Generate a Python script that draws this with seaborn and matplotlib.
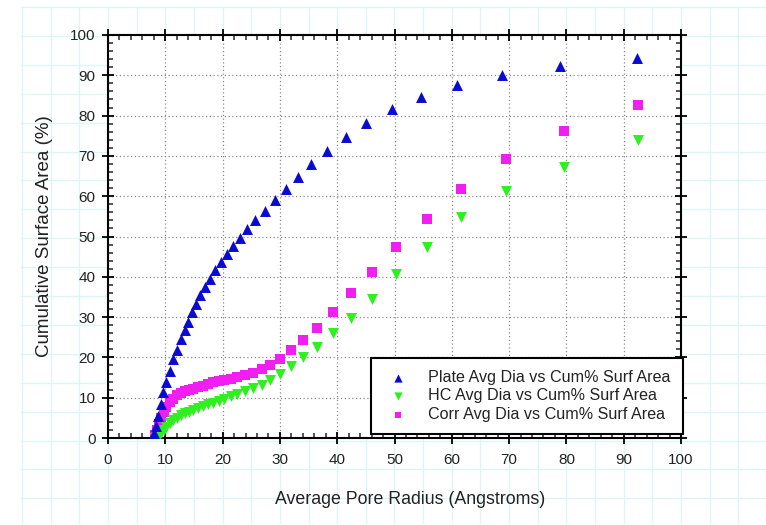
import numpy as np
import pandas as pd
import matplotlib
matplotlib.use("Agg")
import matplotlib.pyplot as plt
import seaborn as sns
from matplotlib.ticker import MultipleLocator

# ---------------- data ----------------
plate_x = [8.1, 8.35, 8.8, 9.3, 9.6, 10.2, 10.8, 11.4, 12.0, 12.7, 13.4, 14.0,
           14.6, 15.4, 16.1, 17.0, 17.8, 18.7, 19.7, 20.7, 21.9, 23.0, 24.3,
           25.7, 27.4, 29.1, 31.0, 33.2, 35.5, 38.3, 41.5, 45.1, 49.5, 54.7,
           60.9, 68.8, 78.8, 92.3]
plate_y = [1.3, 3.0, 5.5, 8.4, 11.3, 14.0, 16.7, 19.5, 21.9, 24.5, 26.7, 28.9,
           31.2, 33.3, 35.4, 37.5, 39.5, 41.6, 43.6, 45.6, 47.6, 49.7, 51.8,
           54.1, 56.4, 59.0, 61.8, 64.8, 68.0, 71.3, 74.7, 78.1, 81.7, 84.6,
           87.6, 90.0, 92.3, 94.4]

hc_corr_x = [8.2, 8.5, 8.9, 9.3, 9.7, 10.2, 10.8, 11.4, 12.0, 12.7, 13.4, 14.1,
             14.9, 15.7, 16.5, 17.4, 18.3, 19.3, 20.3, 21.4, 22.6, 23.9, 25.3,
             26.8, 28.3, 30.0, 31.9, 34.0, 36.5, 39.3, 42.4, 46.0, 50.3, 55.7,
             61.6, 69.5, 79.5, 92.5]
hc_y = [0.0, 0.3, 0.8, 1.3, 2.0, 2.8, 3.7, 4.4, 5.0, 5.6, 6.1, 6.5,
        7.0, 7.5, 7.9, 8.4, 8.8, 9.3, 9.8, 10.3, 10.9, 11.6, 12.3,
        13.2, 14.5, 15.9, 17.9, 20.0, 22.7, 26.0, 29.9, 34.5, 40.8, 47.4,
        54.9, 61.3, 67.3, 74.0]
corr_y = [0.8, 1.9, 3.4, 5.0, 6.5, 7.7, 8.9, 9.8, 10.6, 11.2, 11.6, 11.9,
          12.2, 12.6, 13.0, 13.4, 13.8, 14.1, 14.4, 14.7, 15.1, 15.6, 16.1,
          17.0, 18.0, 19.6, 21.8, 24.4, 27.4, 31.3, 35.9, 41.1, 47.3, 54.4,
          61.8, 69.2, 76.1, 82.6]

series_names = ["Plate Avg Dia vs Cum% Surf Area",
                "HC Avg Dia vs Cum% Surf Area",
                "Corr Avg Dia vs Cum% Surf Area"]
x_label = "Average Pore Radius (Angstroms)"
y_label = "Cumulative Surface Area (%)"

# ---------------- styling ----------------
sns.set_theme(style="white")
plt.rcParams["font.family"] = ["Liberation Sans", "DejaVu Sans"]

W, H = 766, 525
fig = plt.figure(figsize=(W / 100, H / 100), dpi=100)
fig.patch.set_facecolor("white")

# graph-paper backdrop (decoration)
bg = fig.add_axes([0, 0, 1, 1], zorder=-5)
bg.set_xlim(0, W)
bg.set_ylim(H, 0)
bg.axis("off")
paper_col = "#dff5f5"
for xv in np.arange(22, W + 1, 28.65):
    bg.plot([xv, xv], [7, 523], color=paper_col, lw=1.0)
for yv in np.arange(7, 524, 28.9):
    bg.plot([21, W], [yv, yv], color=paper_col, lw=1.0)

ax = fig.add_axes([108 / W, 1 - 438 / H, (681 - 108) / W, (438 - 35) / H])
ax.set_facecolor("white")

plate_df = pd.DataFrame({"x": plate_x, "y": plate_y})
hc_df = pd.DataFrame({"x": hc_corr_x, "y": hc_y})
corr_df = pd.DataFrame({"x": hc_corr_x, "y": corr_y})

sns.scatterplot(data=plate_df, x="x", y="y", ax=ax, marker="^", s=62,
                color="#0a0ad2", linewidth=0, label=series_names[0], zorder=5)
sns.scatterplot(data=hc_df, x="x", y="y", ax=ax, marker="v", s=62,
                color="#2ef01e", linewidth=0, label=series_names[1], zorder=4)
sns.scatterplot(data=corr_df, x="x", y="y", ax=ax, marker="s", s=44,
                color="#f01ef0", linewidth=0, label=series_names[2], zorder=3)

ax.set_xlim(0, 100)
ax.set_ylim(0, 100)
ax.xaxis.set_major_locator(MultipleLocator(10))
ax.yaxis.set_major_locator(MultipleLocator(10))
ax.xaxis.set_minor_locator(MultipleLocator(2))
ax.yaxis.set_minor_locator(MultipleLocator(2))

ax.grid(True, which="major", color="#8a8a8a", linestyle=(0, (1, 2)), lw=0.9)
ax.set_axisbelow(True)

for sp in ax.spines.values():
    sp.set_visible(True)
    sp.set_color("black")
    sp.set_linewidth(1.5)

ax.tick_params(which="major", direction="inout", length=8, width=1.3,
               top=True, right=True, bottom=True, left=True,
               labelsize=11, colors="black")
ax.tick_params(which="minor", direction="in", length=3.5, width=1.1,
               top=True, right=True, bottom=True, left=True)
ax.tick_params(axis="x", which="major", pad=7)
ax.tick_params(axis="y", which="major", pad=5)
for lab in ax.get_xticklabels() + ax.get_yticklabels():
    lab.set_color("#222222")

ax.set_xlabel(x_label, fontsize=12.8, color="#222222")
ax.set_ylabel(y_label, fontsize=13.5, color="#222222")
ax.xaxis.set_label_coords(0.527, -0.132)
ax.yaxis.set_label_coords(-0.096, 0.5)

leg = ax.legend(loc="lower right", bbox_to_anchor=(1.003, 0.01), fontsize=11.6,
                frameon=True, fancybox=False, shadow=False, framealpha=1,
                edgecolor="black", borderpad=0.75, handletextpad=1.0,
                labelspacing=0.22, markerscale=0.75, borderaxespad=0.0,
                handlelength=1.8)
leg.get_frame().set_linewidth(1.5)
for t in leg.get_texts():
    t.set_color("#222222")

fig.savefig("out.png", dpi=100)
